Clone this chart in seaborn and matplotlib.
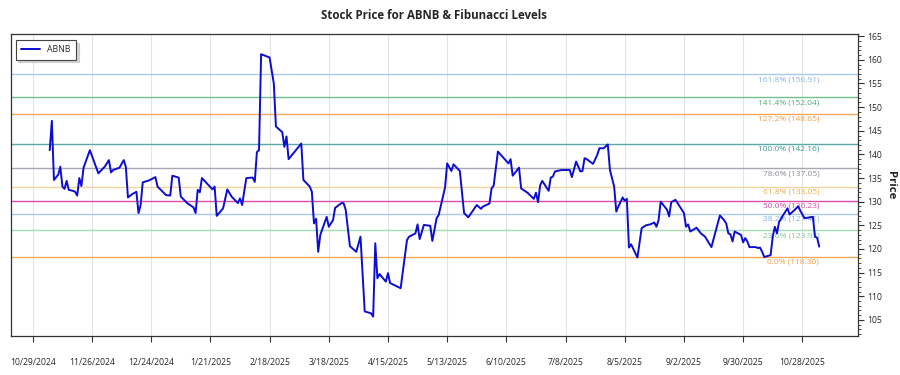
import matplotlib
matplotlib.use("Agg")
import matplotlib.pyplot as plt
from matplotlib.ticker import MultipleLocator
import seaborn as sns
import pandas as pd

# ---------------- data ----------------
dates = [
    "2024-11-06", "2024-11-07", "2024-11-08", "2024-11-10", "2024-11-11", "2024-11-12",
    "2024-11-13", "2024-11-14", "2024-11-15", "2024-11-17", "2024-11-18", "2024-11-19",
    "2024-11-20", "2024-11-21", "2024-11-22", "2024-11-25", "2024-11-29", "2024-12-02",
    "2024-12-04", "2024-12-05", "2024-12-06", "2024-12-09", "2024-12-11", "2024-12-12",
    "2024-12-13", "2024-12-15", "2024-12-17", "2024-12-18", "2024-12-19", "2024-12-20",
    "2024-12-23", "2024-12-26", "2024-12-27", "2024-12-31", "2025-01-02", "2025-01-03",
    "2025-01-06", "2025-01-07", "2025-01-10", "2025-01-13", "2025-01-14", "2025-01-15",
    "2025-01-16", "2025-01-17", "2025-01-22", "2025-01-23", "2025-01-24", "2025-01-27",
    "2025-01-29", "2025-01-31", "2025-02-03", "2025-02-04", "2025-02-05", "2025-02-07",
    "2025-02-10", "2025-02-11", "2025-02-12", "2025-02-13", "2025-02-14", "2025-02-18",
    "2025-02-20", "2025-02-21", "2025-02-24", "2025-02-25", "2025-02-26", "2025-02-27",
    "2025-03-05", "2025-03-06", "2025-03-09", "2025-03-10", "2025-03-11", "2025-03-12",
    "2025-03-13", "2025-03-14", "2025-03-17", "2025-03-18", "2025-03-20", "2025-03-21",
    "2025-03-24", "2025-03-25", "2025-03-26", "2025-03-28", "2025-03-31", "2025-04-02",
    "2025-04-04", "2025-04-07", "2025-04-08", "2025-04-09", "2025-04-10", "2025-04-11",
    "2025-04-14", "2025-04-15", "2025-04-16", "2025-04-21", "2025-04-24", "2025-04-25",
    "2025-04-28", "2025-04-29", "2025-04-30", "2025-05-02", "2025-05-05", "2025-05-06",
    "2025-05-08", "2025-05-09", "2025-05-12", "2025-05-13", "2025-05-15", "2025-05-16",
    "2025-05-19", "2025-05-21", "2025-05-23", "2025-05-27", "2025-05-29", "2025-05-30",
    "2025-06-02", "2025-06-03", "2025-06-04", "2025-06-06", "2025-06-11", "2025-06-12",
    "2025-06-13", "2025-06-16", "2025-06-17", "2025-06-20", "2025-06-23", "2025-06-24",
    "2025-06-25", "2025-06-26", "2025-06-27", "2025-06-30", "2025-07-01", "2025-07-02",
    "2025-07-03", "2025-07-06", "2025-07-10", "2025-07-11", "2025-07-13", "2025-07-15",
    "2025-07-16", "2025-07-17", "2025-07-18", "2025-07-21", "2025-07-23", "2025-07-24",
    "2025-07-26", "2025-07-28", "2025-07-29", "2025-07-31", "2025-08-01", "2025-08-02",
    "2025-08-04", "2025-08-05", "2025-08-06", "2025-08-07", "2025-08-08", "2025-08-11",
    "2025-08-13", "2025-08-15", "2025-08-17", "2025-08-19", "2025-08-20", "2025-08-21",
    "2025-08-22", "2025-08-25", "2025-08-26", "2025-08-27", "2025-08-29", "2025-08-31",
    "2025-09-02", "2025-09-03", "2025-09-04", "2025-09-05", "2025-09-08", "2025-09-10",
    "2025-09-12", "2025-09-15", "2025-09-19", "2025-09-21", "2025-09-22", "2025-09-23",
    "2025-09-24", "2025-09-25", "2025-09-26", "2025-09-28", "2025-09-29", "2025-09-30",
    "2025-10-01", "2025-10-02", "2025-10-03", "2025-10-06", "2025-10-07", "2025-10-08",
    "2025-10-09", "2025-10-10", "2025-10-13", "2025-10-14", "2025-10-15", "2025-10-16",
    "2025-10-17", "2025-10-19", "2025-10-21", "2025-10-22", "2025-10-24", "2025-10-26",
    "2025-10-29", "2025-11-02", "2025-11-03", "2025-11-04", "2025-11-05",
]
prices = [
    140.9, 147.1, 134.6, 135.7, 137.4, 133.2,
    132.7, 134.4, 132.5, 132.3, 132.1, 131.3,
    135.0, 133.3, 137.2, 140.9, 136.0, 137.4,
    138.8, 136.2, 136.7, 137.2, 138.8, 137.4,
    130.9, 131.6, 132.1, 127.6, 129.3, 134.1,
    134.5, 135.2, 133.2, 131.4, 131.3, 135.5,
    135.1, 131.1, 129.7, 128.8, 127.6, 132.5,
    132.0, 135.0, 132.6, 133.2, 127.0, 128.6,
    132.6, 131.1, 129.7, 130.7, 129.3, 135.0,
    135.1, 134.2, 140.5, 140.9, 161.2, 160.5,
    155.0, 145.9, 144.7, 141.6, 143.8, 139.0,
    142.3, 134.6, 133.2, 132.1, 125.4, 126.4,
    119.4, 123.0, 126.8, 124.7, 126.1, 128.7,
    129.7, 129.7, 128.3, 120.6, 119.4, 122.6,
    106.8, 106.4, 105.7, 121.2, 113.8, 114.7,
    113.1, 114.9, 112.8, 111.7, 121.9, 122.6,
    123.3, 125.2, 122.1, 125.1, 124.9, 121.7,
    126.5, 127.2, 133.0, 138.1, 136.5, 137.9,
    136.5, 127.6, 126.7, 129.3, 128.5, 129.0,
    129.6, 132.8, 133.4, 140.6, 138.1, 139.0,
    135.5, 137.2, 132.8, 131.9, 130.6, 131.9,
    129.9, 133.5, 134.4, 132.3, 135.1, 135.3,
    136.4, 136.7, 136.7, 135.2, 138.5, 136.4,
    136.5, 139.2, 139.0, 138.0, 139.9, 141.3,
    141.3, 142.1, 136.7, 133.2, 127.9, 129.0,
    130.9, 130.2, 130.6, 120.3, 121.0, 118.2,
    124.4, 125.0, 125.2, 125.6, 124.7, 126.1,
    130.0, 128.3, 126.9, 129.9, 130.4, 129.0,
    127.6, 124.7, 125.2, 123.7, 124.5, 123.3,
    122.6, 120.4, 127.1, 126.1, 125.4, 123.3,
    123.1, 121.6, 123.7, 123.2, 123.0, 121.4,
    122.3, 121.6, 120.4, 120.4, 120.2, 120.3,
    119.4, 118.3, 118.7, 122.6, 124.7, 123.3,
    125.7, 127.2, 128.6, 127.3, 128.1, 129.0,
    126.5, 126.8, 122.6, 122.4, 120.5,
]

fib_ratios = [0.0, 23.6, 38.2, 50.0, 61.8, 78.6, 100.0, 127.2, 141.4, 161.8]
fib_values = [118.30, 123.93, 127.41, 130.23, 133.05, 137.05, 142.16, 148.65, 152.04, 156.91]
fib_line_colors = ["#f5a95a", "#a6dcb4", "#a9c8f2", "#d94fae", "#f2d49c",
                   "#a8a8b4", "#5aa8a8", "#f5a95a", "#72bf8c", "#a9c8f2"]
fib_text_colors = ["#f0a040", "#78c890", "#88b0e8", "#d04aa8", "#e8b04a",
                   "#8c8c98", "#3a9a96", "#f0a040", "#4fb070", "#88b0e8"]

x_tick_dates = ["2024-10-29", "2024-11-26", "2024-12-24", "2025-01-21", "2025-02-18",
                "2025-03-18", "2025-04-15", "2025-05-13", "2025-06-10", "2025-07-08",
                "2025-08-05", "2025-09-02", "2025-09-30", "2025-10-28"]

ticker = "ABNB"
title = "Stock Price for ABNB & Fibunacci Levels"

# ---------------- plot ----------------
sns.set_theme(style="white")
plt.rcParams["font.family"] = ["Open Sans", "DejaVu Sans"]

df = pd.DataFrame({"Date": pd.to_datetime(dates), "Price": prices, "Ticker": ticker})

fig = plt.figure(figsize=(9, 3.75), dpi=100)
ax = fig.add_axes([0.0125, 0.104, 0.9405, 0.8045])

for ratio, val, lc in zip(fib_ratios, fib_values, fib_line_colors):
    ax.axhline(val, color=lc, lw=1.0, zorder=1)

sns.lineplot(data=df, x="Date", y="Price", hue="Ticker", palette=["#0c0cd2"],
             lw=1.4, ax=ax, zorder=3)

last_date = df["Date"].iloc[-1]
for ratio, val, tc in zip(fib_ratios, fib_values, fib_text_colors):
    ax.text(last_date, val - 0.35, f"{ratio:.1f}% ({val:.2f})", color=tc,
            fontsize=6, ha="right", va="top", zorder=2)

ax.set_ylim(101.6, 165.4)
ax.yaxis.tick_right()
ax.yaxis.set_label_position("right")
ax.yaxis.set_major_locator(MultipleLocator(5))
ax.yaxis.set_minor_locator(MultipleLocator(1))
ax.set_ylabel("Price", rotation=270, fontsize=8.2, fontweight="bold", labelpad=10)
ax.set_xlabel("")

ticks = pd.to_datetime(x_tick_dates)
ax.set_xticks(ticks)
ax.set_xticklabels([f"{d.month}/{d.day}/{d.year}" for d in ticks])
ax.xaxis.grid(True, color="#e4e4e4", lw=0.8)
ax.yaxis.grid(False)

ax.tick_params(axis="x", which="major", direction="out", length=4, width=0.8,
               color="#333333", labelsize=6.2, pad=12, bottom=True)
ax.tick_params(axis="y", which="major", direction="out", length=4, width=0.8,
               color="#333333", labelsize=6.2, pad=3, right=True, left=False)
ax.tick_params(axis="y", which="minor", direction="out", length=2, width=0.6,
               color="#333333", right=True, left=False)

for s in ax.spines.values():
    s.set_visible(True)
    s.set_color("#333333")
    s.set_linewidth(0.9)

leg = ax.legend(loc="upper left", fontsize=6.3, frameon=True, fancybox=False,
                shadow={"color": "#bbbbbb", "alpha": 0.6}, edgecolor="#444444",
                borderpad=0.6, handlelength=2.2, bbox_to_anchor=(0.0, 0.995))
leg.get_frame().set_linewidth(0.8)

ax.set_title(title, fontsize=8.3, fontweight="bold", pad=11)

fig.savefig("out.png", dpi=100)
